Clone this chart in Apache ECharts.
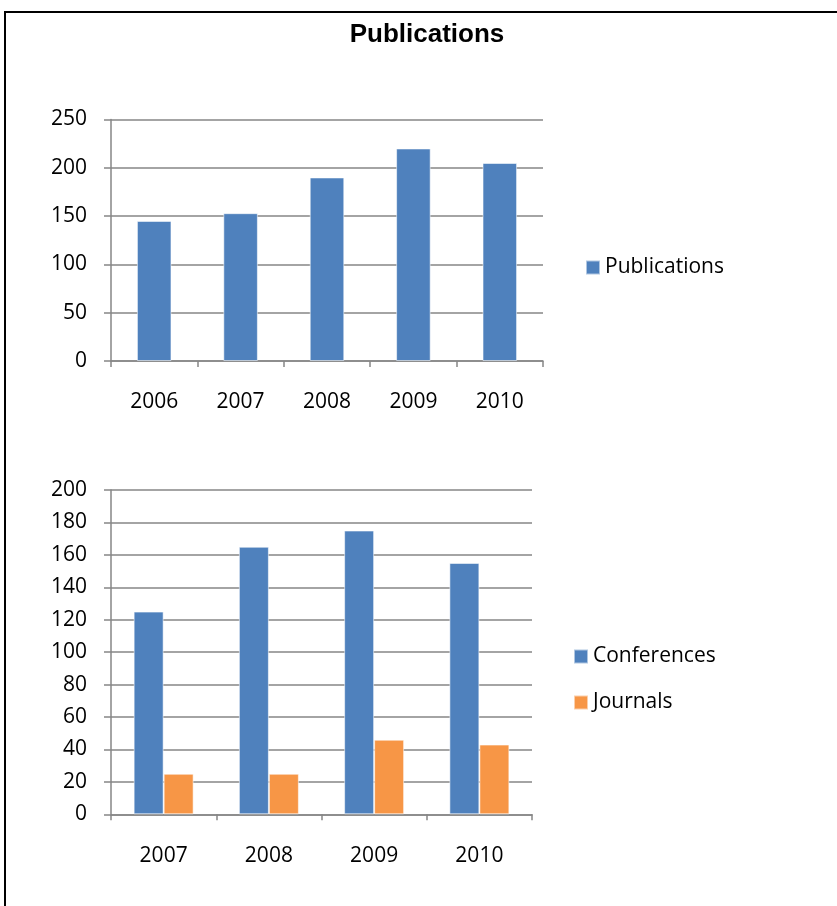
<!DOCTYPE html>
<html>
<head>
<meta charset="utf-8">
<script src="https://cdn.jsdelivr.net/npm/echarts@6/dist/echarts.min.js"></script>
<style>
  html, body { margin: 0; padding: 0; background: #fff; }
  #chart { width: 837px; height: 906px; }
</style>
</head>
<body>
<div id="chart"></div>
<script>
// Total publications per year
const yearsTotal = ['2006', '2007', '2008', '2009', '2010'];
const publications = [145, 153, 190, 220, 205];

// Breakdown by venue type
const yearsSplit = ['2007', '2008', '2009', '2010'];
const conferences = [125, 165, 175, 155];
const journals = [25, 25, 46, 43];

const BLUE = '#4F81BD';
const ORANGE = '#F79646';
const GRID_GRAY = '#868686';
const LABEL_FONT = '"Open Sans", "Noto Sans", sans-serif';
const LABEL_SIZE = 21;

function valueAxis(gridIndex, max, interval) {
  return {
    type: 'value', gridIndex, min: 0, max, interval,
    axisLine: { show: true, lineStyle: { color: GRID_GRAY, width: 1.5 } },
    axisTick: { show: true, length: 7, lineStyle: { color: GRID_GRAY, width: 1.5 } },
    splitLine: { show: true, lineStyle: { color: GRID_GRAY, width: 1.5 } },
    axisLabel: { margin: 24, color: '#000', fontSize: LABEL_SIZE, fontFamily: LABEL_FONT }
  };
}

function categoryAxis(gridIndex, data) {
  return {
    type: 'category', gridIndex, data,
    axisLine: { show: true, lineStyle: { color: GRID_GRAY, width: 1.5 } },
    axisTick: { show: true, length: 6, alignWithLabel: false, lineStyle: { color: GRID_GRAY, width: 1.5 } },
    axisLabel: { margin: 31, color: '#000', fontSize: LABEL_SIZE, fontFamily: LABEL_FONT }
  };
}

const barBorder = { borderColor: 'rgba(255,255,255,0.55)', borderWidth: 1 };

const legendText = { fontSize: LABEL_SIZE, lineHeight: 20, color: '#000', fontFamily: LABEL_FONT };

const chart = echarts.init(document.getElementById('chart'), null, { renderer: 'canvas' });
chart.setOption({
  animation: false,
  backgroundColor: '#fff',
  title: {
    text: 'Publications',
    left: 427, top: 22, textAlign: 'center', padding: 0,
    textStyle: { fontFamily: '"Liberation Sans", Arial, sans-serif', fontWeight: 'bold', fontSize: 26, color: '#000' }
  },
  graphic: [{
    type: 'polyline',
    shape: { points: [[5, 906], [5, 12], [837, 12]] },
    style: { stroke: '#000', lineWidth: 2, fill: null }
  }],
  legend: [
    {
      data: ['Publications'],
      left: 585, top: 257, orient: 'vertical', padding: 0,
      itemWidth: 14, itemHeight: 14, icon: 'rect',
      textStyle: legendText
    },
    {
      data: ['Conferences', 'Journals'],
      left: 573, top: 646, orient: 'vertical', itemGap: 25, padding: 0,
      itemWidth: 14, itemHeight: 14, icon: 'rect',
      textStyle: legendText
    }
  ],
  grid: [
    { left: 111, top: 119.5, width: 432, height: 241.5 },
    { left: 111, top: 490, width: 421, height: 324.3 }
  ],
  xAxis: [categoryAxis(0, yearsTotal), categoryAxis(1, yearsSplit)],
  yAxis: [valueAxis(0, 250, 50), valueAxis(1, 200, 20)],
  series: [
    {
      name: 'Publications', type: 'bar', xAxisIndex: 0, yAxisIndex: 0,
      data: publications, barCategoryGap: '60%',
      itemStyle: Object.assign({ color: BLUE }, barBorder)
    },
    {
      name: 'Conferences', type: 'bar', xAxisIndex: 1, yAxisIndex: 1,
      data: conferences, barGap: '0%', barCategoryGap: '43%',
      itemStyle: Object.assign({ color: BLUE }, barBorder)
    },
    {
      name: 'Journals', type: 'bar', xAxisIndex: 1, yAxisIndex: 1,
      data: journals, barGap: '0%', barCategoryGap: '43%',
      itemStyle: Object.assign({ color: ORANGE }, barBorder)
    }
  ]
});
</script>
</body>
</html>
